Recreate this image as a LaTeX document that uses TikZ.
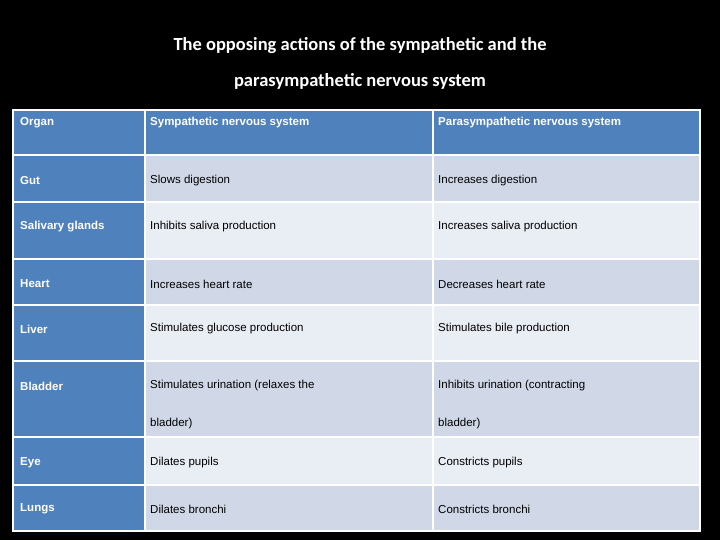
\documentclass[tikz,border=0pt]{standalone}
\usepackage{fontspec}
\setmainfont{Liberation Sans}
\newfontfamily\titlefont{Carlito}
\definecolor{hdr}{HTML}{4F81BD}
\definecolor{rowa}{HTML}{D0D8E8}
\definecolor{rowb}{HTML}{E9EDF4}
\begin{document}
\begin{tikzpicture}[x=1pt,y=-1pt,
  cell/.style={draw=white,line width=2.5pt},
  txt/.style={anchor=west,inner sep=0pt,font=\fontsize{11.5}{14}\selectfont},
  btxt/.style={txt,text=white,font=\fontsize{11.5}{14}\selectfont\bfseries},
  ttl/.style={text=white,font=\titlefont\fontsize{18.5}{22}\selectfont\bfseries}]
\fill[black] (0,0) rectangle (720,540);
\useasboundingbox (0,0) rectangle (720,540);
\node[ttl] (t1) at (360,46) {The opposing actions of the sympathetic and the};
\node[ttl] (t2) at (360,81) {parasympathetic nervous system};
% header
\fill[hdr] (13,110) rectangle (700,155);
\draw[cell] (145,110) -- (145,155) (433,110) -- (433,155);
% rows
\foreach \a/\b/\c in {155/202/rowa,202/259/rowb,259/305/rowa,305/361/rowb,361/437/rowa,437/485/rowb,485/531/rowa}{
  \fill[\c] (145,\a) rectangle (700,\b);
  \fill[hdr] (13,\a) rectangle (145,\b);
  \draw[cell] (13,\a) -- (700,\a);
}
\draw[cell] (145,155) -- (145,531) (433,155) -- (433,531);
\draw[cell] (13,110) rectangle (700,531);
\node[btxt] (h1) at (20,123) {Organ};
\node[btxt] (h2) at (150,123) {Sympathetic nervous system};
\node[btxt] (h3) at (438,123) {Parasympathetic nervous system};
\foreach \y/\o/\s/\p [count=\i] in {181/Gut/Slows digestion/Increases digestion,
 227/Salivary glands/Inhibits saliva production/Increases saliva production,
 284/Heart/Increases heart rate/Decreases heart rate,
 329/Liver/Stimulates glucose production/Stimulates bile production,
 386/Bladder/Stimulates urination (relaxes the/Inhibits urination (contracting,
 463/Eye/Dilates pupils/Constricts pupils,
 509/Lungs/Dilates bronchi/Constricts bronchi}{
  \node[btxt] (o\i) at (20,\y) {\o};
  \node[txt] (s\i) at (150,\y) {\s};
  \node[txt] (p\i) at (438,\y) {\p};
}
\node[txt] (s5b) at (150,424) {bladder)};
\node[txt] (p5b) at (438,424) {bladder)};
\end{tikzpicture}
\end{document}
